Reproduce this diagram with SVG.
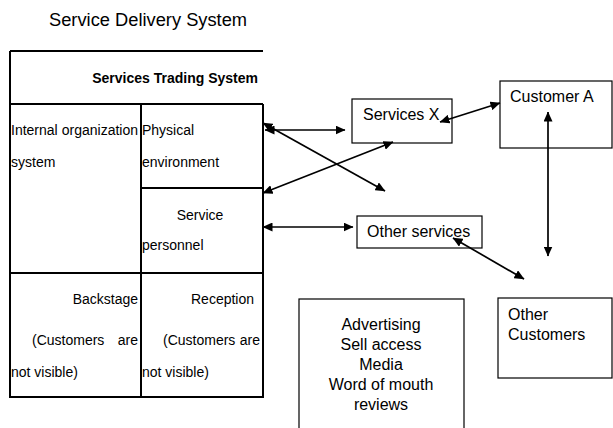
<svg xmlns="http://www.w3.org/2000/svg" width="613" height="428" viewBox="0 0 613 428">
<style>
text{font-family:"Liberation Sans",Arial,sans-serif;fill:#000}
.t{font-size:14px}
.b{font-size:14px;font-weight:bold}
.n{font-size:16px}
.title{font-size:18.3px}
.grid{stroke:#000;stroke-width:2;fill:none}
.box{stroke:#000;stroke-width:1.2;fill:#fff}
.c line{stroke:#000;stroke-width:1.7;marker-start:url(#ah);marker-end:url(#ah)}
</style>
<defs>
<marker id="ah" viewBox="0 0 10 9" refX="9.5" refY="4.5" markerWidth="10" markerHeight="9" orient="auto-start-reverse" markerUnits="userSpaceOnUse">
<path d="M0,0 L10,4.5 L0,9 z" fill="#000"/>
</marker>
</defs>
<rect width="613" height="428" fill="#fff"/>
<text class="title" x="49" y="26">Service Delivery System</text>
<g id="trading-system">
<path class="grid" d="M10,51 H263 M10,51 V397 H263 V104 M10,104 H263 M141,104 V397 M141,188 H263 M10,273 H263"/>
<text class="b" x="258" y="83" text-anchor="end">Services Trading System</text>
<text class="t" x="11" y="135">Internal</text>
<text class="t" x="138" y="135" text-anchor="end">organization</text>
<text class="t" x="11" y="167">system</text>
<text class="t" x="142" y="135">Physical</text>
<text class="t" x="142" y="167">environment</text>
<text class="t" x="200" y="220" text-anchor="middle">Service</text>
<text class="t" x="142" y="250">personnel</text>
<text class="t" x="138" y="304" text-anchor="end">Backstage</text>
<text class="t" x="32" y="345">(Customers</text>
<text class="t" x="138" y="345" text-anchor="end">are</text>
<text class="t" x="11" y="377">not visible)</text>
<text class="t" x="191" y="304">Reception</text>
<text class="t" x="163" y="345">(Customers</text>
<text class="t" x="260" y="345" text-anchor="end">are</text>
<text class="t" x="142" y="377">not visible)</text>
</g>
<g id="services-x">
<rect class="box" x="352" y="99" width="100" height="44"/>
<text class="n" x="363" y="120">Services X</text>
</g>
<g id="customer-a">
<rect class="box" x="500" y="81" width="112" height="67"/>
<text class="n" x="510" y="102">Customer A</text>
</g>
<g id="other-services">
<rect class="box" x="357" y="216" width="125" height="32"/>
<text class="n" x="367" y="237">Other services</text>
</g>
<g id="other-customers">
<rect class="box" x="498" y="298" width="114" height="80"/>
<text class="n" x="508" y="320">Other</text>
<text class="n" x="508" y="340">Customers</text>
</g>
<g id="channels">
<rect class="box" x="299" y="299" width="165" height="140"/>
<text class="n" x="381" y="330" text-anchor="middle">Advertising</text>
<text class="n" x="381" y="350" text-anchor="middle">Sell access</text>
<text class="n" x="381" y="370" text-anchor="middle">Media</text>
<text class="n" x="381" y="390" text-anchor="middle">Word of mouth</text>
<text class="n" x="381" y="410" text-anchor="middle">reviews</text>
</g>
<g id="connectors" class="c">
<line x1="265" y1="130" x2="345" y2="130"/>
<line x1="263" y1="123" x2="385" y2="191"/>
<line x1="263" y1="193" x2="393" y2="142"/>
<line x1="263" y1="227" x2="353" y2="227"/>
<line x1="440" y1="122" x2="500" y2="103"/>
<line x1="548" y1="112" x2="548" y2="256"/>
<line x1="453" y1="238" x2="524" y2="279"/>
</g>
</svg>
